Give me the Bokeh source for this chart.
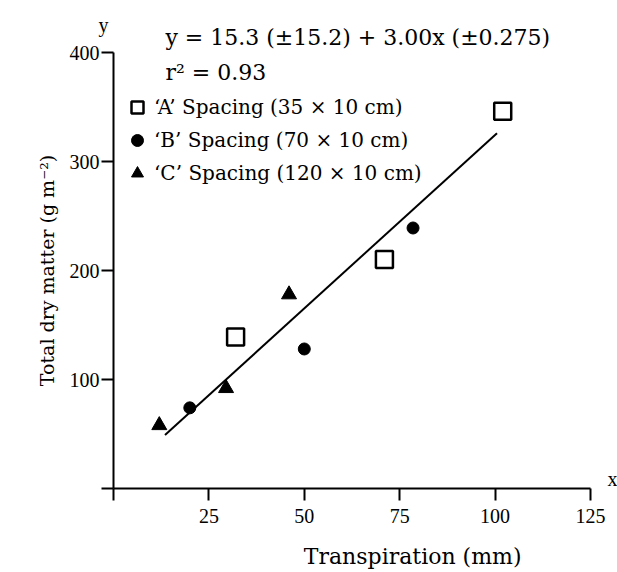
import math
from bokeh.plotting import figure
from bokeh.models import Range1d, FixedTicker, Label, Legend, LegendItem
from bokeh.embed import file_html
from bokeh.resources import INLINE

# Data
a_x = [32, 71, 102]
a_y = [139, 210, 346]
b_x = [20, 50, 78.5]
b_y = [74, 128, 239]
c_x = [12, 29.5, 46]
c_y = [58, 92, 178]
fit_x = [13.5, 100.5]
fit_y = [49, 326]

x_ticks = [0, 25, 50, 75, 100, 125]
y_ticks = [0, 100, 200, 300, 400]

labels = ["\u2018A\u2019 Spacing (35 \u00d7 10 cm)",
          "\u2018B\u2019 Spacing (70 \u00d7 10 cm)",
          "\u2018C\u2019 Spacing (120 \u00d7 10 cm)"]
eq_text = "y  =  15.3 (\u00b115.2)  +  3.00x (\u00b10.275)"
r2_text = "r\u00b2 = 0.93"
x_title = "Transpiration (mm)"
y_title = "Total dry matter (g m\u207b\u00b2)"

FONT = "Liberation Serif"
WIDE = "DejaVu Serif"

# frame covers the whole canvas; axes are fixed at the data origin
p = figure(width=617, height=572, output_backend="svg", toolbar_location=None,
           x_range=Range1d(-29.61, 132.08), y_range=Range1d(-77.06, 447.71),
           min_border_left=0, min_border_right=0, min_border_top=0,
           min_border_bottom=0)
p.outline_line_color = None
p.grid.visible = False
p.background_fill_color = "white"
p.border_fill_color = "white"

for ax in (p.xaxis[0], p.yaxis[0]):
    ax.fixed_location = 0
    ax.axis_line_width = 2
    ax.major_tick_line_width = 2
    ax.minor_tick_line_color = None
    ax.major_tick_in = 0
    ax.major_tick_out = 12
    ax.major_label_text_font = FONT
    ax.major_label_text_font_size = "20px"
    ax.major_label_text_color = "black"
    ax.axis_line_color = "black"
    ax.major_tick_line_color = "black"

p.xaxis[0].bounds = (0, 125)
p.yaxis[0].bounds = (0, 400)
p.xaxis[0].ticker = FixedTicker(ticks=x_ticks)
p.xaxis[0].major_label_overrides = {0: ""}
p.xaxis[0].major_label_standoff = 8
p.yaxis[0].ticker = FixedTicker(ticks=y_ticks)
p.yaxis[0].major_label_overrides = {0: ""}
p.yaxis[0].major_label_standoff = 2

p.line(fit_x, fit_y, line_color="black", line_width=2)
ra = p.scatter(a_x, a_y, marker="square", size=17, fill_color="white",
               line_color="black", line_width=2.5)
rb = p.scatter(b_x, b_y, marker="circle", size=12, fill_color="black",
               line_color="black")
rc = p.scatter(c_x, c_y, marker="triangle", size=15, fill_color="black",
               line_color="black")

legend = Legend(items=[LegendItem(label=labels[0], renderers=[ra]),
                       LegendItem(label=labels[1], renderers=[rb]),
                       LegendItem(label=labels[2], renderers=[rc])],
                location=(122, 384), padding=0, margin=0, spacing=3,
                glyph_width=30, glyph_height=30, label_standoff=2,
                label_text_font=WIDE, label_text_font_size="20px",
                label_text_color="black",
                border_line_alpha=0, background_fill_alpha=0)
p.add_layout(legend)

def lab(x, y, t, font=WIDE, size="21px", align="left", angle=0):
    p.add_layout(Label(x=x, y=y, text=t, text_font=font, text_font_size=size,
                       text_align=align, text_baseline="middle", angle=angle,
                       text_color="black"))

lab(13.6, 414, eq_text, size="22px")
lab(13.6, 382, r2_text, size="22px")
lab(-2.6, 425, "y", font=FONT, size="20px", align="center")
lab(130.8, 9, "x", font=FONT, size="20px", align="center")
lab(78.4, -62, x_title, size="22px", align="center")
lab(-17.3, 200, y_title, size="19px", align="center", angle=math.pi / 2)

open("out.html", "w").write(file_html(p, INLINE))
